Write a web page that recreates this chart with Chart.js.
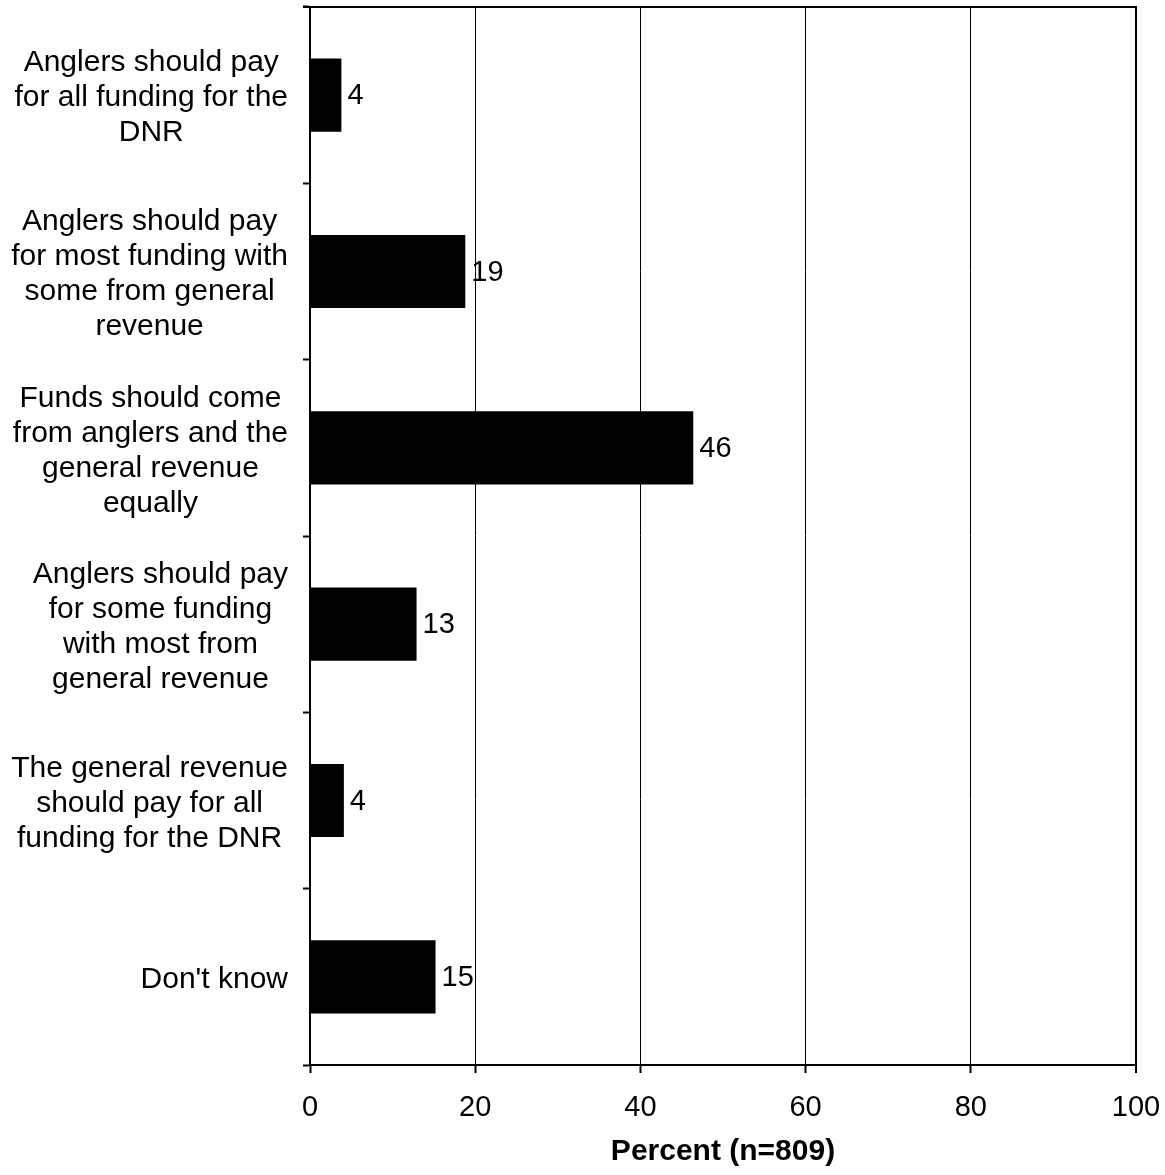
<!DOCTYPE html>
<html>
<head>
<meta charset="utf-8">
<script src="https://cdn.jsdelivr.net/npm/chart.js@4"></script>
<style>
  body { margin: 0; background: #fff; }
</style>
</head>
<body>
<canvas id="grafico" width="1165" height="1175"></canvas>
<script>
let categorias = [
    ["Anglers should pay", "for all funding for the", "DNR"],
    ["Anglers should pay", "for most funding with", "some from general", "revenue"],
    ["Funds should come", "from anglers and the", "general revenue", "equally"],
    ["Anglers should pay", "for some funding", "with most from", "general revenue"],
    ["The general revenue", "should pay for all", "funding for the DNR"],
    ["Don't know"]
]
let percentuais = [3.8, 18.8, 46.4, 12.9, 4.1, 15.2]
let ticksX = [0, 20, 40, 60, 80, 100]
let tituloX = "Percent (n=809)"

var fonte = "'Liberation Sans', Arial, sans-serif"

Chart.defaults.font.family = fonte
Chart.defaults.font.size = 29
Chart.defaults.color = '#000'

// category names (centred lines, block pushed against the axis), value labels and top border
var rotulos = {
    id: 'rotulos',
    afterDraw(chart) {
        let ctx = chart.ctx
        let escalaY = chart.scales.y
        let area = chart.chartArea
        ctx.save()
        ctx.fillStyle = '#000'
        ctx.font = '30px ' + fonte
        ctx.textBaseline = 'middle'
        ctx.textAlign = 'center'
        chart.data.labels.forEach((linhas, i) => {
            let centro = escalaY.getPixelForValue(i) + 3
            let largura = Math.max(...linhas.map(l => ctx.measureText(l).width))
            let x = area.left - 22 - largura / 2
            linhas.forEach((linha, j) => {
                ctx.fillText(linha, x, centro + (j - (linhas.length - 1) / 2) * 35)
            })
        })

        ctx.font = '29px ' + fonte
        ctx.textAlign = 'left'
        chart.getDatasetMeta(0).data.forEach((barra, i) => {
            ctx.fillText(Math.round(percentuais[i]), barra.x + 6, barra.y + 1)
        })

        ctx.lineWidth = 2
        ctx.strokeStyle = '#000'
        ctx.beginPath()
        ctx.moveTo(area.left - 7, area.top)
        ctx.lineTo(area.right + 1, area.top)
        ctx.stroke()
        ctx.restore()
    }
}

var grafico = new Chart(document.getElementById('grafico'), {
    type: 'bar',
    data: {
        labels: categorias,
        datasets: [
            {
                data: percentuais,
                backgroundColor: '#000',
                categoryPercentage: 1,
                barPercentage: 0.415
            }
        ]
    },
    options: {
        indexAxis: 'y',
        responsive: false,
        animation: false,
        layout: { padding: { top: 7, right: 0, bottom: 0, left: 0 } },
        plugins: {
            legend: { display: false },
            tooltip: { enabled: false }
        },
        scales: {
            x: {
                min: ticksX[0],
                max: ticksX[ticksX.length - 1],
                ticks: { stepSize: ticksX[1] - ticksX[0], padding: 18, maxRotation: 0 },
                grid: {
                    color: '#000',
                    lineWidth: c => (c.tick && c.tick.value === 100) ? 2 : 1,
                    tickLength: 8,
                    tickWidth: 2,
                    tickColor: '#000'
                },
                border: { color: '#000', width: 2 },
                title: {
                    display: true,
                    text: tituloX,
                    font: { weight: 'bold', size: 30 },
                    padding: { top: 0, bottom: 5 }
                },
                afterFit: s => {
                    s.height = 110
                    s.paddingLeft = 0
                    s.paddingRight = 29
                }
            },
            y: {
                ticks: { display: false },
                grid: { offset: true, drawOnChartArea: false, tickLength: 7, color: '#000', tickWidth: 2 },
                border: { color: '#000', width: 2 },
                afterFit: s => { s.width = 310 }
            }
        }
    },
    plugins: [rotulos]
})
</script>
</body>
</html>
